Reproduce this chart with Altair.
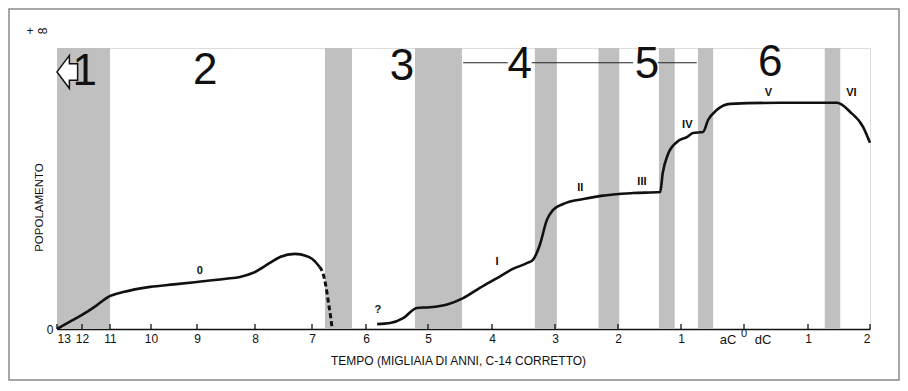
import altair as alt
import pandas as pd

# Time in thousands of years: negative = a.C. (BC), positive = d.C. (AD)
TICKS = [-13, -12, -11, -10, -9, -8, -7, -6, -5, -4, -3, -2, -1, 0, 1, 2]
# calibrated (non-linear) time axis: screen stop for every tick
TICK_STOPS = [0, 25, 53, 94, 140, 198, 255, 309, 371, 435, 498, 561, 624, 687, 751, 813]

SEG1_X = [-13, -12.5, -12, -11.5, -11.07, -10.68, -10.02, -9.5, -9, -8.5, -8.26, -8.03,
          -7.74, -7.56, -7.3, -7.1, -7.0, -6.86]
SEG1_Y = [0, 0.2, 0.40, 0.66, 0.91, 1.05, 1.20, 1.27, 1.34, 1.43, 1.48, 1.6,
          1.88, 2.05, 2.14, 2.08, 2.0, 1.77]

DASH_X = [-6.86, -6.80, -6.74, -6.69, -6.65, -6.63]
DASH_Y = [1.77, 1.6, 1.2, 0.7, 0.3, 0.05]

SEG2_X = [-5.82, -5.61, -5.40, -5.18, -4.97, -4.70, -4.45, -4.19, -3.92, -3.67, -3.44,
          -3.35, -3.24, -3.13, -3.03, -2.87, -2.55, -2.27, -1.76, -1.33, -1.29, -1.21,
          -1.06, -0.9, -0.81, -0.65, -0.57, -0.43, -0.22, 0.57, 1.47, 1.68, 1.89, 2.0]
SEG2_Y = [0.14, 0.17, 0.31, 0.6, 0.62, 0.70, 0.88, 1.17, 1.45, 1.71, 1.88,
          1.97, 2.4, 3.1, 3.39, 3.56, 3.7, 3.79, 3.87, 3.9, 4.44, 4.96,
          5.33, 5.47, 5.58, 5.61, 5.95, 6.24, 6.41, 6.44, 6.44, 6.18, 5.75, 5.3]

BAND_START = [-13, -6.76, -5.21, -3.32, -2.31, -1.35, -0.73, 1.27]
BAND_END = [-11, -6.26, -4.47, -2.97, -1.98, -1.10, -0.49, 1.52]

PERIOD_LABELS = ["1", "2", "3", "4", "5", "6"]
PERIOD_X = [-11.9, -8.86, -5.42, -3.56, -1.54, 0.41]
PERIOD_Y = [7.32, 7.35, 7.45, 7.52, 7.52, 7.58]

LINK_START = [-4.45, -3.37, -1.37]
LINK_END = [-3.75, -1.76, -0.75]
LINK_Y = 7.58

PHASE_LABELS = ["0", "?", "I", "II", "III", "IV", "V", "VI"]
PHASE_X = [-8.95, -5.81, -3.92, -2.6, -1.62, -0.9, 0.38, 1.7]
PHASE_Y = [1.65, 0.54, 1.91, 4.02, 4.19, 5.81, 6.72, 6.72]

W, H = 813, 281
FONT = "Liberation Sans"

xscale = alt.Scale(domain=TICKS, range=TICK_STOPS, zero=False, nice=False)
yscale = alt.Scale(domain=[0, 8], zero=False, nice=False)

curve = pd.DataFrame(
    [{"t": x, "p": y, "seg": "a"} for x, y in zip(SEG1_X, SEG1_Y)]
    + [{"t": x, "p": y, "seg": "b"} for x, y in zip(SEG2_X, SEG2_Y)]
)
dash = pd.DataFrame({"t": DASH_X, "p": DASH_Y})
bands = pd.DataFrame({"s": BAND_START, "e": BAND_END})
ticks = pd.DataFrame({"t": TICKS})
periods = pd.DataFrame({"t": PERIOD_X, "lab": PERIOD_LABELS, "p": PERIOD_Y})
links = pd.DataFrame({"s": LINK_START, "e": LINK_END, "p": [LINK_Y] * len(LINK_START)})
phases = pd.DataFrame({"t": PHASE_X, "p": PHASE_Y, "lab": PHASE_LABELS})

xaxis = alt.Axis(
    values=TICKS,
    labelExpr="datum.value == 0 ? '' : '' + abs(datum.value)",
    ticks=False,
    grid=False,
    domain=True,
    domainColor="#111",
    domainWidth=1.5,
    labelFont=FONT,
    labelFontSize=12,
    labelColor="#111",
    labelPadding=4,
    title="TEMPO (MIGLIAIA DI ANNI, C-14 CORRETTO)",
    titleFont=FONT,
    titleFontSize=12,
    titleFontWeight="normal",
    titleColor="#111",
    titleX=401,
    titleY=31,
    titleBaseline="middle",
)
yaxis = alt.Axis(
    values=[0],
    ticks=False,
    grid=False,
    domain=False,
    labelFont=FONT,
    labelFontSize=12,
    labelColor="#111",
    labelPadding=4,
    title="POPOLAMENTO",
    titleFont=FONT,
    titleFontSize=11.5,
    titleFontWeight="normal",
    titleColor="#111",
    titleX=-18,
    titleY=159,
    titleAngle=-90,
    titleBaseline="middle",
)

band_layer = alt.Chart(bands).mark_rect(color="#c0c0c0").encode(
    x=alt.X("s:Q", scale=xscale, axis=xaxis),
    x2="e:Q",
    y=alt.value(0),
    y2=alt.value(H),
)

tick_layer = alt.Chart(ticks).mark_rule(color="#111", strokeWidth=1.3).encode(
    x=alt.X("t:Q", scale=xscale),
    y=alt.value(H),
    y2=alt.value(H - 5),
)

curve_layer = alt.Chart(curve).mark_line(
    color="#111", strokeWidth=2.6, interpolate="monotone"
).encode(
    x=alt.X("t:Q", scale=xscale),
    y=alt.Y("p:Q", scale=yscale, axis=yaxis),
    detail="seg:N",
)

dash_layer = alt.Chart(dash).mark_line(
    color="#111", strokeWidth=3, strokeDash=[5, 3], interpolate="monotone"
).encode(
    x=alt.X("t:Q", scale=xscale),
    y=alt.Y("p:Q", scale=yscale),
)

link_layer = alt.Chart(links).mark_rule(color="#222", strokeWidth=1).encode(
    x=alt.X("s:Q", scale=xscale),
    x2="e:Q",
    y=alt.Y("p:Q", scale=yscale),
)

period_layer = alt.Chart(periods).mark_text(
    font=FONT, fontSize=44, fontWeight=300, color="#111", baseline="middle", align="center"
).encode(
    x=alt.X("t:Q", scale=xscale),
    y=alt.Y("p:Q", scale=yscale),
    text="lab:N",
)

arrow_layer = alt.Chart(pd.DataFrame({"t": [-12.34], "p": [7.32]})).mark_point(
    shape="M -1 0 L -0.25 -1 L -0.25 -0.5 L 0.25 -0.5 L 0.25 0.5 L -0.25 0.5 L -0.25 1 Z",
    size=1089, filled=True, fill="white", stroke="#111", strokeWidth=1.5, opacity=1,
).encode(
    x=alt.X("t:Q", scale=xscale),
    y=alt.Y("p:Q", scale=yscale),
)

phase_layer = alt.Chart(phases).mark_text(
    font=FONT, fontSize=11, fontWeight="bold", color="#111", baseline="middle", align="center"
).encode(
    x=alt.X("t:Q", scale=xscale),
    y=alt.Y("p:Q", scale=yscale),
    text="lab:N",
)

era = pd.DataFrame({"t": [0, 0, 0], "lab": ["aC", "0", "dC"]})
era_ac = alt.Chart(era[era.lab == "aC"]).mark_text(
    font=FONT, fontSize=13, color="#111", baseline="middle", dx=-16
).encode(x=alt.X("t:Q", scale=xscale), y=alt.value(H + 11), text="lab:N")
era_zero = alt.Chart(era[era.lab == "0"]).mark_text(
    font=FONT, fontSize=11, color="#111", baseline="middle"
).encode(x=alt.X("t:Q", scale=xscale), y=alt.value(H + 5), text="lab:N")
era_dc = alt.Chart(era[era.lab == "dC"]).mark_text(
    font=FONT, fontSize=13, color="#111", baseline="middle", dx=19
).encode(x=alt.X("t:Q", scale=xscale), y=alt.value(H + 11), text="lab:N")

top_label = alt.Chart(pd.DataFrame({"lab": ["8", "+"], "dx": [-14, -27]})).mark_text(
    font=FONT, fontSize=12, color="#111", baseline="middle", align="center"
).encode(
    x=alt.X("dx:Q", scale=None),
    y=alt.value(-17),
    text="lab:N",
    angle=alt.condition("datum.lab == '8'", alt.value(270), alt.value(0)),
)

frame = alt.Chart(pd.DataFrame({"k": [0]})).mark_rect(
    fill=None, stroke="#8a8a8a", strokeWidth=1.5
).encode(
    x=alt.value(-48), x2=alt.value(842), y=alt.value(-39), y2=alt.value(332)
)

chart = alt.layer(
    band_layer, tick_layer, link_layer, dash_layer, curve_layer, arrow_layer,
    period_layer, phase_layer, era_ac, era_zero, era_dc, top_label, frame
).properties(
    width=W, height=H,
    autosize=alt.AutoSizeParams(type="none"),
    padding={"left": 49, "top": 40, "right": 30, "bottom": 52},
).configure_view(
    stroke="#222", strokeWidth=1.2
).configure(background="white")

chart.save("out.html", embed_options={"renderer": "svg", "actions": False})
